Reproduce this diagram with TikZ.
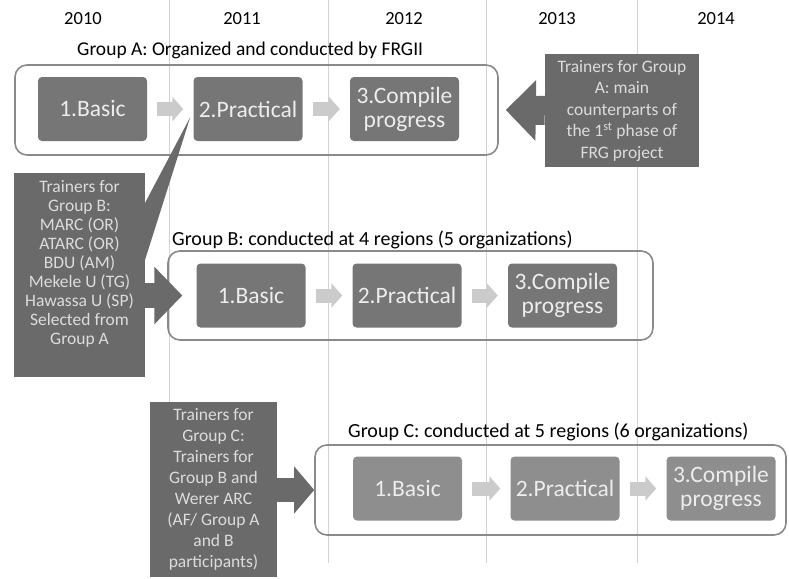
\documentclass[tikz,border=0pt]{standalone}
\usepackage{fontspec}
\setmainfont{Carlito}
\usetikzlibrary{arrows.meta}
\definecolor{stepgray}{HTML}{767676}
\definecolor{stepgraylt}{HTML}{8E8E8E}
\definecolor{traingray}{HTML}{6A6A6A}
\definecolor{chevgray}{HTML}{CBCBCB}
\definecolor{framegray}{HTML}{8A8A8A}
\definecolor{gridgray}{HTML}{D2D2D2}
\definecolor{boxtext}{HTML}{EDEDED}
\definecolor{traintext}{HTML}{DCDCDC}

\begin{document}
\begin{tikzpicture}[x=1pt, y=-1pt,
	stepbox/.style={rectangle, rounded corners=4pt, fill=stepgray, text=boxtext, minimum width=109pt, minimum height=64pt, inner sep=2pt, align=center, font=\fontsize{23.5}{24}\selectfont},
	groupbox/.style={rectangle, rounded corners=12pt, draw=framegray, line width=1.6pt, inner sep=0pt},
	trainbox/.style={rectangle, fill=traingray, text=traintext, align=center, inner sep=0pt, font=\fontsize{17.5}{21}\selectfont},
	title/.style={anchor=west, inner sep=0pt, font=\fontsize{20}{22}\selectfont},
	chev/.style={draw=chevgray, line width=14pt, -{Triangle[width=24pt,length=11pt]}, shorten <=10pt, shorten >=10pt},
	bigarrow/.style n args={3}{draw=traingray, line width=#1, -{Triangle[width=#2,length=#3]}}]
		\useasboundingbox (0,0) rectangle (789,578);
		\foreach \x in {169,328,486,637}
			\draw[gridgray, line width=0.8pt] (\x,0) -- (\x,563);
		\begin{scope}[every node/.style={font=\fontsize{18.5}{20}\selectfont}]
			\foreach \x/\yr in {83/2010, 242/2011, 404/2012, 557/2013, 716/2014}
				\node (y\yr) at (\x,19) {\yr};
		\end{scope}
		
		\node[groupbox, minimum width=483pt, minimum height=90pt] (ga) at (256.5,110) {};
		\node[groupbox, minimum width=485pt, minimum height=89pt] (gb) at (410.5,295.5) {};
		\node[groupbox, minimum width=471pt, minimum height=90pt] (gc) at (550.5,490) {};
		\node[title, font=\fontsize{19.5}{22}\selectfont] (tta) at (77,50) {Group A: Organized and conducted by FRGII};
		\node[title] (ttb) at (172,240) {Group B: conducted at 4 regions (5 organizations)};
		\node[title] (ttc) at (348,432) {Group C: conducted at 5 regions (6 organizations)};
		
		\node[stepbox] (a1) at (92.5,109) {1.Basic};
		\node[stepbox] (a2) at (248,109) {2.Practical};
		\node[stepbox] (a3) at (404.5,109) {3.Compile\\progress};
		\node[stepbox] (b1) at (251,295.5) {1.Basic};
		\node[stepbox] (b2) at (407,295.5) {2.Practical};
		\node[stepbox] (b3) at (562.5,295.5) {3.Compile\\progress};
		\node[stepbox, fill=stepgraylt] (c1) at (407.5,488.5) {1.Basic};
		\node[stepbox, fill=stepgraylt] (c2) at (565,488.5) {2.Practical};
		\node[stepbox, fill=stepgraylt] (c3) at (721,488.5) {3.Compile\\progress};
		\draw[chev] (a1) -- (a2);
		\draw[chev] (a2) -- (a3);
		\draw[chev] (b1) -- (b2);
		\draw[chev] (b2) -- (b3);
		\draw[chev] (c1) -- (c2);
		\draw[chev] (c2) -- (c3);
		
		\node[trainbox, minimum width=154pt, minimum height=113pt, font=\fontsize{17.5}{21.5}\selectfont] (tA) at (622,110.5)
			{Trainers for Group\\A: main\\counterparts of\\the 1\textsuperscript{st} phase of\\FRG project};
		\fill[traingray] (145,203) coordinate (wa) -- ([shift={(-3,8)}]a2.west) -- (145,260) coordinate (wb) -- cycle;
		\node[trainbox, minimum width=131pt, minimum height=204pt, font=\fontsize{17.5}{19}\selectfont] (tB) at (79.5,275)
			{Trainers for\\Group B:\\MARC (OR)\\ATARC (OR)\\BDU (AM)\\Mekele U (TG)\\Hawassa U (SP)\\Selected from\\Group A\\[6pt]};
		\node[trainbox, minimum width=127pt, minimum height=175pt] (tC) at (213.5,489.5)
			{Trainers for\\Group C:\\Trainers for\\Group B and\\Werer ARC\\(AF/ Group A\\and B\\participants)};
		
		\draw[bigarrow={29pt}{59pt}{30pt}] (tA.west) -- ([xshift=7pt]ga.east);
		\draw[bigarrow={25pt}{56pt}{28pt}] (tB.east |- b1.west) -- ([xshift=-14pt]b1.west);
		\draw[bigarrow={24pt}{46pt}{20pt}] (tC.east |- gc.west) -- (gc.west);
	\end{tikzpicture}
\end{document}
